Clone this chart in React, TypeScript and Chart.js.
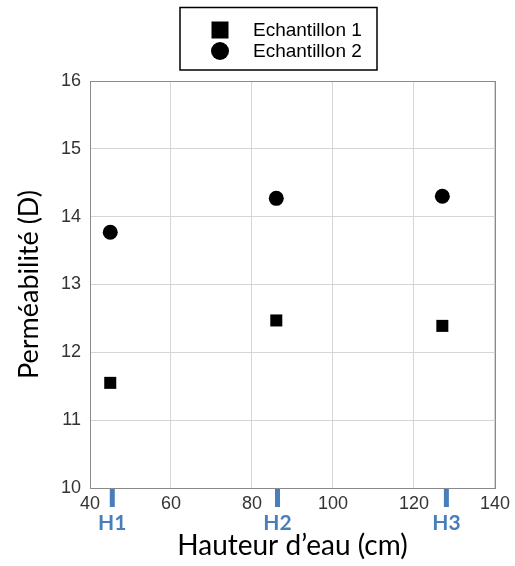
import React, { useEffect, useRef } from "react";
import { Chart, registerables } from "chart.js";

Chart.register(...registerables);

const seriesNames = ["Echantillon 1", "Echantillon 2"];
const xValues = [45, 86, 127];
const sample1 = [11.55, 12.47, 12.39];
const sample2 = [13.77, 14.27, 14.3];
const hLabels = ["H1", "H2", "H3"];
const hPositions = [45.5, 86.3, 128];
const xTitle = "Hauteur d’eau (cm)";
const yTitle = "Perméabilité (D)";

const BLUE = "#4a7ebb";

const frameAndMarks = {
  id: "frameAndMarks",
  afterDraw(chart: any) {
    const { ctx, chartArea, scales } = chart;
    ctx.save();
    // plot frame
    ctx.strokeStyle = "#8a8a8a";
    ctx.lineWidth = 1;
    ctx.strokeRect(
      Math.round(chartArea.left) + 0.5,
      Math.round(chartArea.top) + 0.5,
      Math.round(chartArea.right - chartArea.left),
      Math.round(chartArea.bottom - chartArea.top)
    );
    // H marks
    ctx.fillStyle = BLUE;
    ctx.font = "bold 21px Lato, 'Open Sans', sans-serif";
    ctx.textAlign = "center";
    ctx.textBaseline = "middle";
    hLabels.forEach((lab, i) => {
      const px = scales.x.getPixelForValue(hPositions[i]);
      ctx.fillRect(px - 2.5, chartArea.bottom + 1, 5, 18);
      ctx.fillText(lab, px, chartArea.bottom + 35);
    });
    // legend
    ctx.strokeStyle = "#000";
    ctx.lineWidth = 1.5;
    ctx.strokeRect(180, 7.5, 197, 62.5);
    ctx.fillStyle = "#000";
    ctx.textAlign = "left";
    ctx.font = "19px 'Liberation Sans', Arial, sans-serif";
    const rows = [30, 51];
    chart.data.datasets.forEach((ds: any, i: number) => {
      const cy = rows[i];
      ctx.beginPath();
      if (ds.pointStyle === "rect") {
        ctx.rect(220 - 8.5, cy - 8.5, 17, 17);
      } else {
        ctx.arc(220, cy, 9, 0, Math.PI * 2);
      }
      ctx.fill();
      ctx.fillText(ds.label, 253, cy + 1);
    });
    ctx.restore();
  },
};

export default function App() {
  const ref = useRef<HTMLCanvasElement | null>(null);
  useEffect(() => {
    document.body.style.margin = "0";
    const canvas = ref.current!;
    const chart = new Chart(canvas, {
      type: "scatter",
      data: {
        datasets: [
          {
            label: seriesNames[0],
            data: xValues.map((x, i) => ({ x, y: sample1[i] })),
            pointStyle: "rect",
            pointRadius: 8.5,
            backgroundColor: "#000",
            borderColor: "#000",
            borderWidth: 0,
          },
          {
            label: seriesNames[1],
            data: xValues.map((x, i) => ({ x, y: sample2[i] })),
            pointStyle: "circle",
            pointRadius: 7.5,
            backgroundColor: "#000",
            borderColor: "#000",
            borderWidth: 0,
          },
        ],
      },
      options: {
        responsive: false,
        animation: false,
        layout: { padding: { top: 81, right: 19, left: 0, bottom: 0 } },
        plugins: {
          legend: { display: false },
          tooltip: { enabled: false },
        },
        scales: {
          x: {
            type: "linear",
            min: 40,
            max: 140,
            ticks: {
              stepSize: 20,
              color: "#333",
              padding: 5,
              font: { family: "'Liberation Sans', Arial, sans-serif", size: 18 },
            },
            grid: { color: "#d6d6d6", drawTicks: false },
            border: { color: "#8a8a8a" },
            title: {
              display: true,
              text: xTitle,
              color: "#000",
              font: { family: "Lato, 'Open Sans', sans-serif", size: 28 },
              padding: { top: 0, bottom: 3 },
            },
            afterFit: (s: any) => {
              s.height = 78;
            },
          },
          y: {
            type: "linear",
            min: 10,
            max: 16,
            ticks: {
              stepSize: 1,
              color: "#333",
              padding: 9,
              font: { family: "'Liberation Sans', Arial, sans-serif", size: 18 },
            },
            grid: { color: "#d6d6d6", drawTicks: false },
            border: { color: "#8a8a8a" },
            title: {
              display: true,
              text: yTitle,
              color: "#000",
              font: { family: "Lato, 'Open Sans', sans-serif", size: 27 },
              padding: { top: 13, bottom: 0 },
            },
            afterFit: (s: any) => {
              s.width = 90;
            },
          },
        },
      },
      plugins: [frameAndMarks],
    });
    return () => chart.destroy();
  }, []);
  return (
    <div style={{ width: 515, height: 566 }}>
      <canvas ref={ref} width={515} height={566} style={{ display: "block" }} />
    </div>
  );
}
